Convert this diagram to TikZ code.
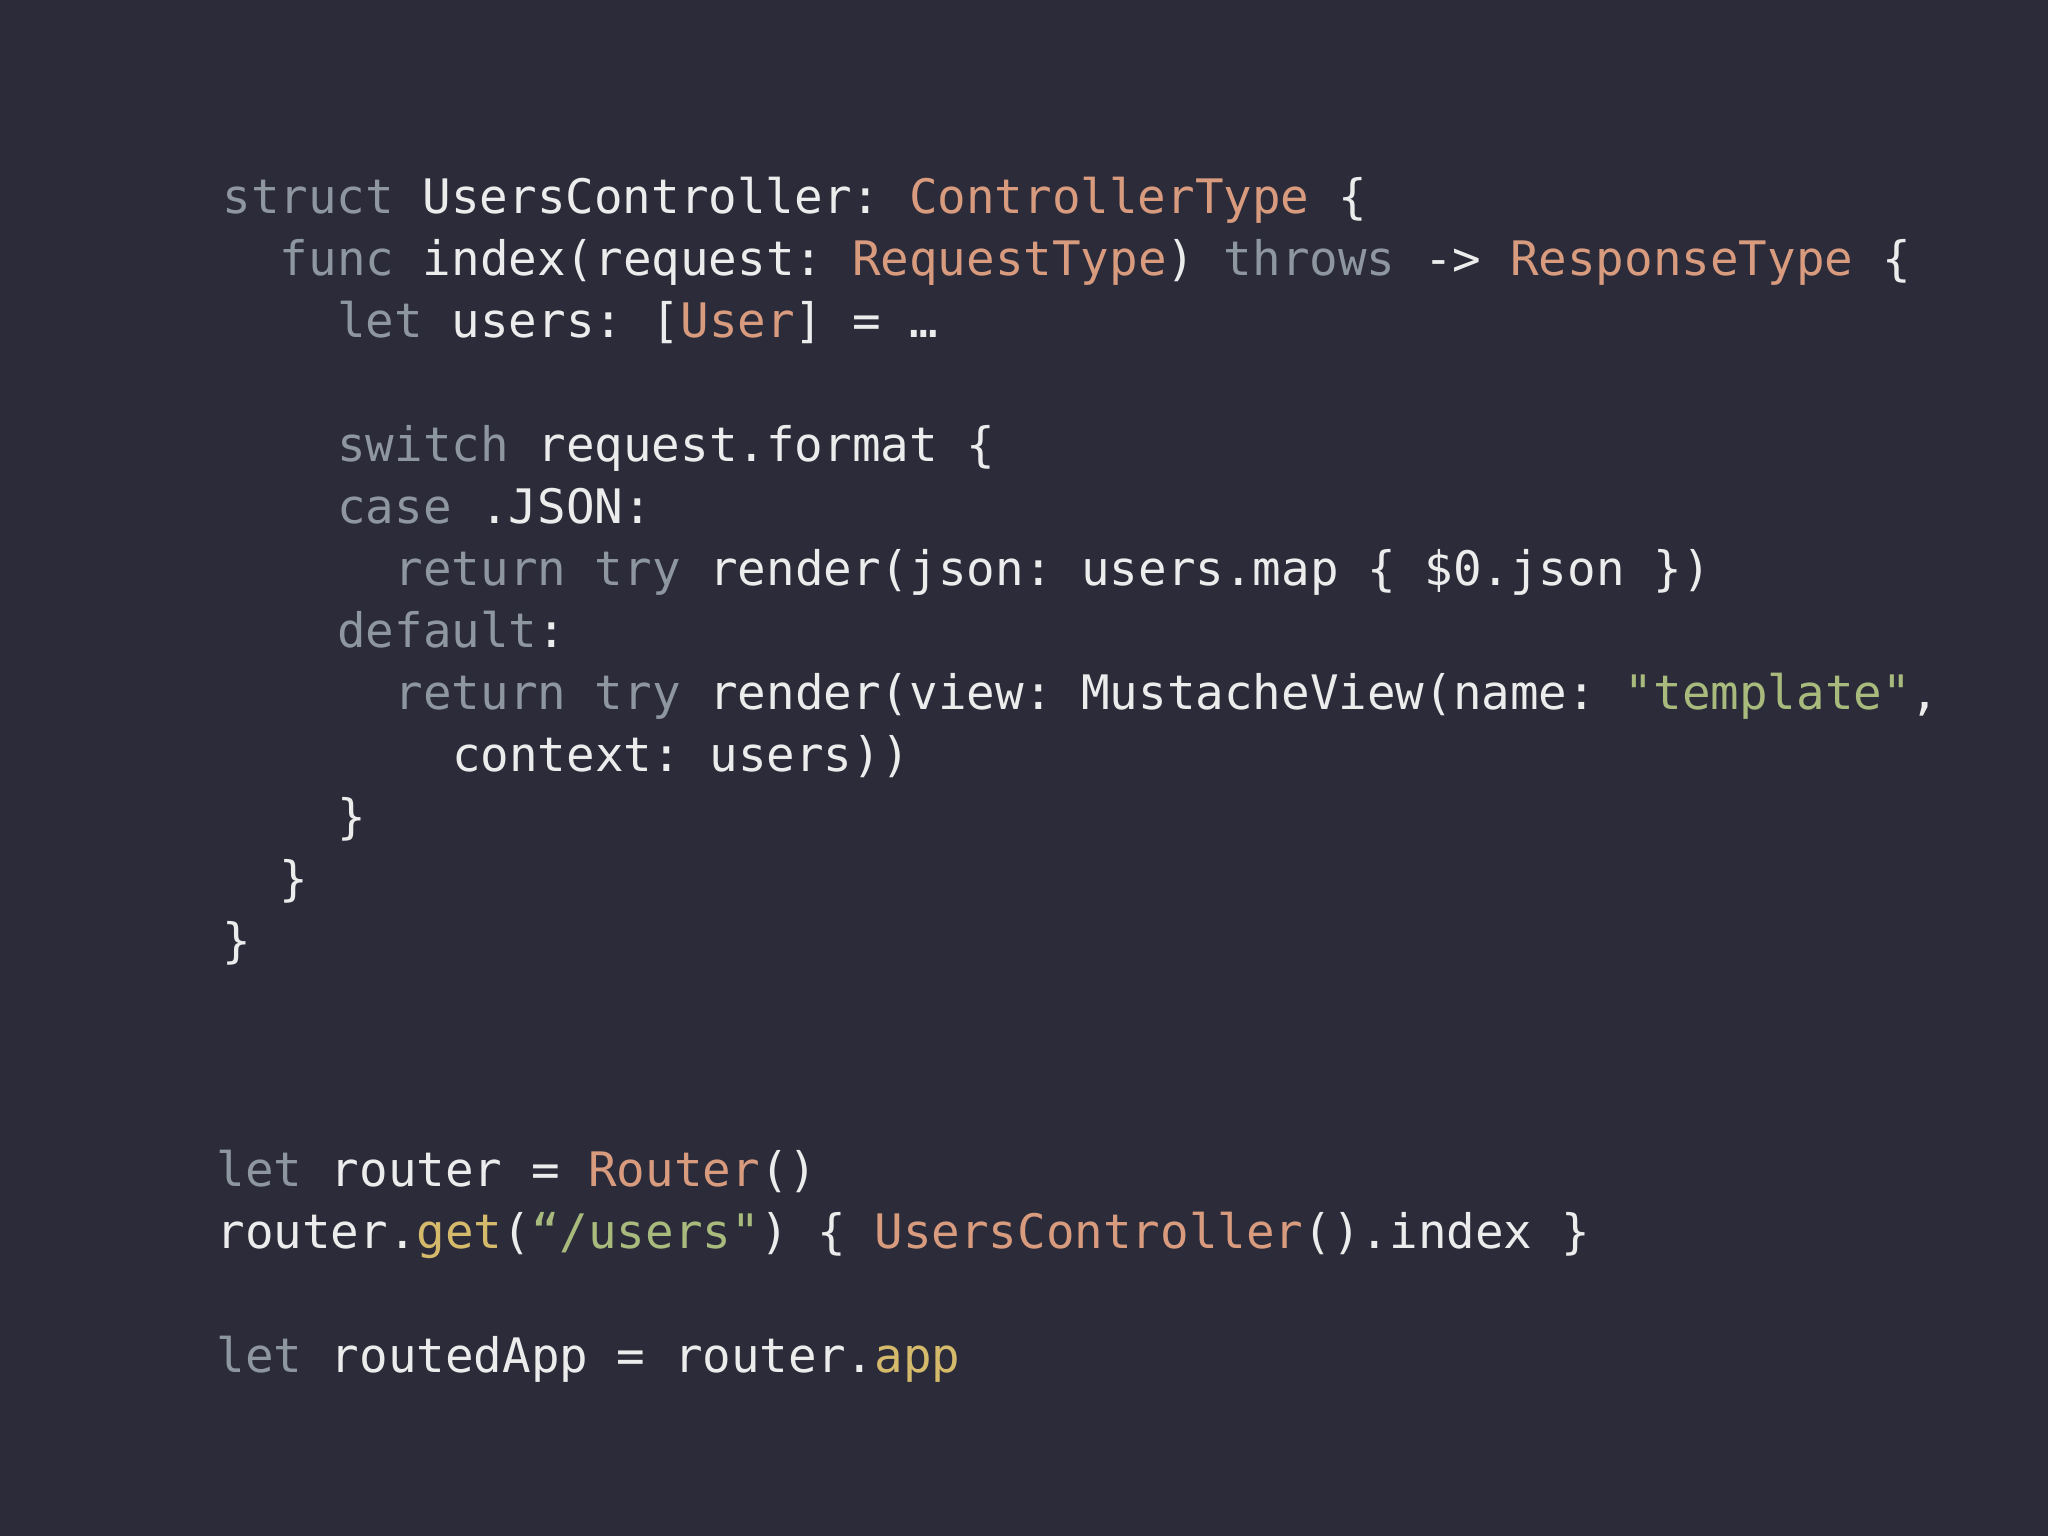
\documentclass[tikz,border=0pt]{standalone}
\usepackage{fontspec}
\setmonofont{DejaVu Sans Mono}
\definecolor{bg}{HTML}{2B2B3A}
\definecolor{kw}{HTML}{8E96A0}
\definecolor{ty}{HTML}{D99B7E}
\definecolor{st}{HTML}{A8BA7C}
\definecolor{fn}{HTML}{D6BA6C}
\definecolor{tx}{HTML}{ECECEC}
\newcommand{\kw}[1]{\textcolor{kw}{#1}}
\newcommand{\ty}[1]{\textcolor{ty}{#1}}
\newcommand{\sg}[1]{\textcolor{st}{#1}}
\newcommand{\fc}[1]{\textcolor{fn}{#1}}
\begin{document}
\begin{tikzpicture}[x=1bp,y=1bp,
  ln/.style={anchor=base west,inner sep=0pt,text=tx,font=\ttfamily\fontsize{23.85}{28}\selectfont}]
\fill[bg] (0,0) rectangle (1024,768);
\useasboundingbox (0,0) rectangle (1024,768);
\def\cw{14.35}
\node[ln] (l1) at (111,661) {\kw{struct} UsersController: \ty{ControllerType} \{};
\node[ln] (l2) at (111+2*\cw,630) {\kw{func} index(request: \ty{RequestType}) \kw{throws} -> \ty{ResponseType} \{};
\node[ln] (l3) at (111+4*\cw,599) {\kw{let} users: [\ty{User}] = …};
\node[ln] (l5) at (111+4*\cw,537) {\kw{switch} request.format \{};
\node[ln] (l6) at (111+4*\cw,506) {\kw{case} .JSON:};
\node[ln] (l7) at (111+6*\cw,475) {\kw{return} \kw{try} render(json: users.map \{ \$0.json \})};
\node[ln] (l8) at (111+4*\cw,444) {\kw{default}:};
\node[ln] (l9) at (111+6*\cw,413) {\kw{return} \kw{try} render(view: MustacheView(name: \sg{"template"},};
\node[ln] (l10) at (111+8*\cw,382) {context: users))};
\node[ln] (l11) at (111+4*\cw,351) {\}};
\node[ln] (l12) at (111+2*\cw,320) {\}};
\node[ln] (l13) at (111,289) {\}};
\node[ln] (r1) at (108,174.5) {\kw{let} router = \ty{Router}()};
\node[ln] (r2) at (108,143.5) {router.\fc{get}(\sg{“/users"}) \{ \ty{UsersController}().index \}};
\node[ln] (r3) at (108,81.5) {\kw{let} routedApp = router.\fc{app}};
\end{tikzpicture}
\end{document}
